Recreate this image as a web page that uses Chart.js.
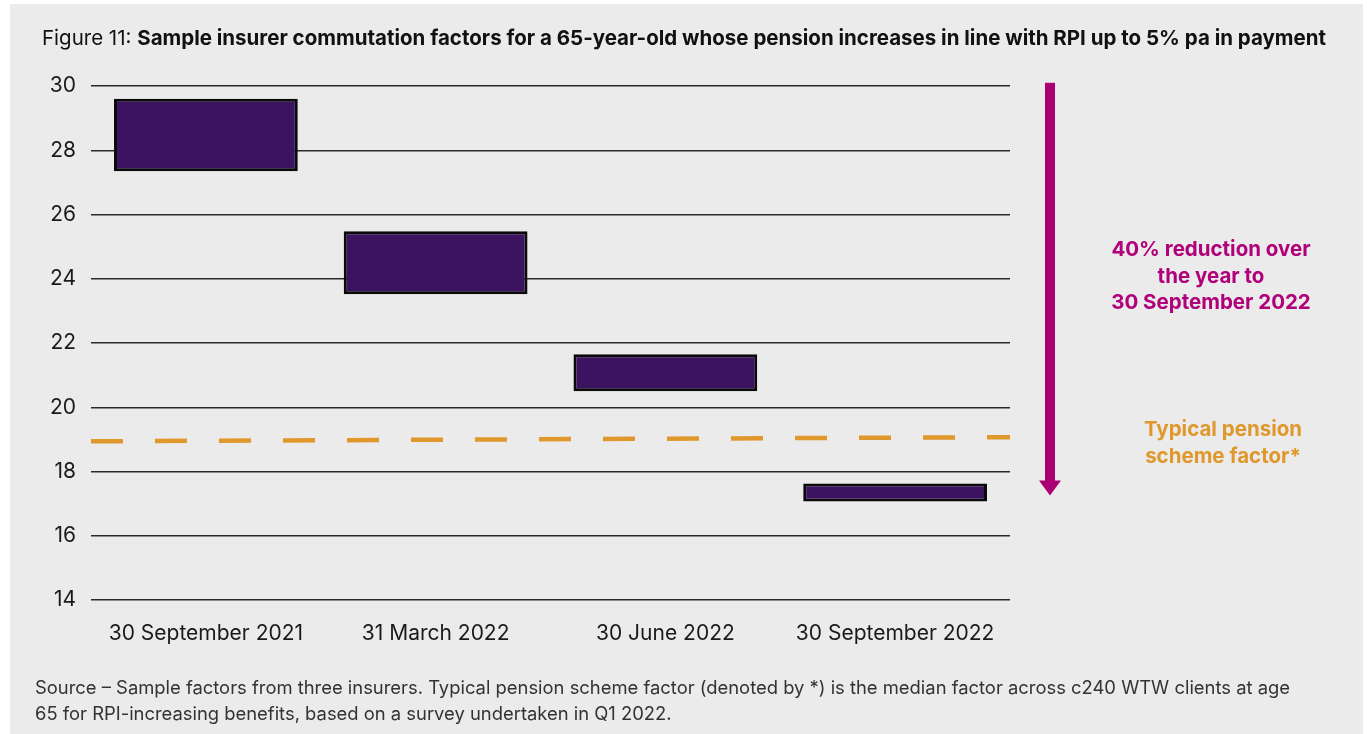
<!DOCTYPE html>
<html>
<head>
<meta charset="utf-8">
<script src="https://cdn.jsdelivr.net/npm/chart.js@4.4.1/dist/chart.umd.min.js"></script>
<style>
  html, body { margin: 0; padding: 0; background: #ffffff; }
  .panel { position: absolute; left: 10px; top: 4px; width: 1353px; height: 730px; background: #ebebeb; }
  .wrap { position: absolute; left: 0; top: 0; width: 1368px; height: 734px; }
  .title { position: absolute; left: 42px; top: 25px; font-family: Inter, sans-serif; font-size: 20.5px; color: #111; white-space: nowrap; letter-spacing: 0; }
  .title b { font-weight: 700; }
  .note { position: absolute; text-align: center; font-family: Inter, sans-serif; font-weight: 700; font-size: 20.5px; line-height: 26.5px; white-space: nowrap; }
  .source { position: absolute; left: 35px; top: 674px; font-family: Inter, sans-serif; font-size: 18.4px; line-height: 26px; color: #333; white-space: nowrap; }
</style>
</head>
<body>
<div class="panel"></div>
<div class="wrap"><canvas id="chart" width="1368" height="734"></canvas></div>
<div class="title">Figure 11: <b>Sample insurer commutation factors for a 65-year-old whose pension increases in line with RPI up to 5% pa in payment</b></div>
<div class="note" style="left:1080px; top:236px; width:262px; color:#b0007a;">40% reduction over<br>the year to<br>30 September 2022</div>
<div class="note" style="left:1100px; top:416px; width:246px; color:#e0982c;">Typical pension<br>scheme factor*</div>
<div class="source">Source – Sample factors from three insurers. Typical pension scheme factor (denoted by *) is the median factor across c240 WTW clients at age<br>65 for RPI-increasing benefits, based on a survey undertaken in Q1 2022.</div>
<script>
'use strict';
const categories = ['30 September 2021', '31 March 2022', '30 June 2022', '30 September 2022'];
const rangeLow = [27.35, 23.52, 20.5, 17.07];
const rangeHigh = [29.6, 25.48, 21.65, 17.63];
const schemeFactor = [18.94, 19.07];
const yTicks = [14, 16, 18, 20, 22, 24, 26, 28, 30];
const arrowFrom = 30.1, arrowTo = 17.25;

const tickFont = { family: 'Inter, sans-serif', size: 21 };

// magenta arrow to the right of the plot
const arrowPlugin = {
  id: 'arrow',
  afterDraw(chart){
    const ctx = chart.ctx;
    const y = chart.scales.y;
    const x = chart.chartArea.right + 40;
    const top = y.getPixelForValue(arrowFrom);
    const tip = y.getPixelForValue(arrowTo);
    ctx.save();
    ctx.fillStyle = '#ab0074';
    ctx.fillRect(x - 5, top, 10, tip - top - 12);
    ctx.beginPath();
    ctx.moveTo(x - 11, tip - 15);
    ctx.lineTo(x + 11, tip - 15);
    ctx.lineTo(x, tip);
    ctx.closePath();
    ctx.fill();
    ctx.restore();
  }
};

new Chart(document.getElementById('chart'), {
  data: {
    labels: categories,
    datasets: [{
      type: 'bar',
      data: categories.map((c, i) => [rangeLow[i], rangeHigh[i]]),
      backgroundColor: '#3c1360',
      borderColor: '#0a0a0a',
      borderWidth: 3,
      borderSkipped: false,
      grouped: false,
      categoryPercentage: 0.8,
      barPercentage: 1.0,
      xAxisID: 'x'
    }, {
      type: 'line',
      data: [{ x: 0, y: schemeFactor[0] }, { x: 1, y: schemeFactor[1] }],
      borderColor: '#e0982c',
      borderWidth: 4.5,
      borderDash: [32, 32],
      pointRadius: 0,
      xAxisID: 'x2'
    }]
  },
  options: {
    responsive: false,
    animation: false,
    devicePixelRatio: 1,
    layout: { padding: { top: 86, right: 358, left: 0, bottom: 74 } },
    plugins: { legend: { display: false }, tooltip: { enabled: false } },
    scales: {
      x: {
        grid: { display: false },
        border: { display: false },
        ticks: { color: '#1a1a1a', font: tickFont, padding: 13, maxRotation: 0 },
        afterFit(s){ s.height = 60; }
      },
      x2: { type: 'linear', display: false, min: 0, max: 1 },
      y: {
        min: 14,
        max: 30,
        afterBuildTicks(s){ s.ticks = yTicks.map(v => ({ value: v })); },
        grid: { color: '#2a2a2a', lineWidth: 1.5, drawTicks: false },
        border: { display: false },
        ticks: { color: '#1a1a1a', font: tickFont, padding: 15 },
        afterFit(s){ s.width = 91; }
      }
    }
  },
  plugins: [arrowPlugin]
});
</script>
</body>
</html>
